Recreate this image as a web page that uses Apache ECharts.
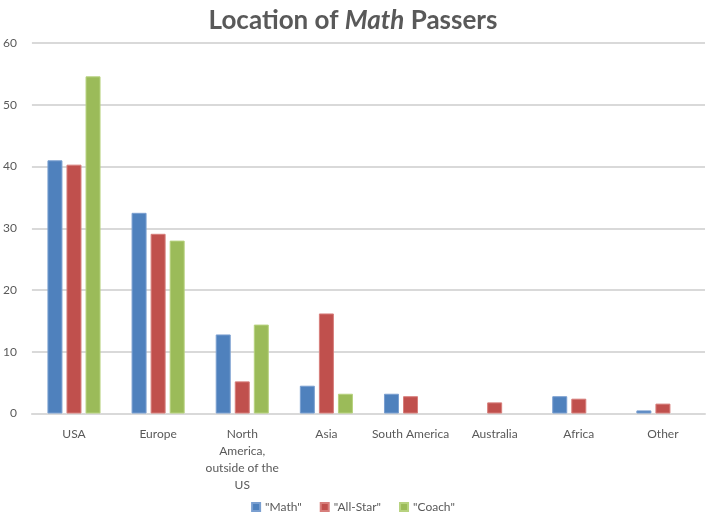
<!DOCTYPE html>
<html>
<head>
<meta charset="utf-8">
<script src="https://cdn.jsdelivr.net/npm/echarts@6/dist/echarts.min.js"></script>
<style>
  html, body { margin: 0; padding: 0; background: #fff; }
  #viz { width: 706px; height: 514px; }
</style>
</head>
<body>
<div id="viz"></div>
<script>
// regions on the x axis
var regions = ['USA', 'Europe', 'North\nAmerica,\noutside of the\nUS', 'Asia',
               'South America', 'Australia', 'Africa', 'Other'];
// values ('-' = no bar)
var mathVals    = [41.0, 32.5, 12.8, 4.5, 3.2, '-', 2.8, 0.5];
var allStarVals = [40.3, 29.1, 5.2, 16.2, 2.8, 1.8, 2.4, 1.6];
var coachVals   = [54.6, 28.0, 14.4, 3.2, '-', '-', '-', '-'];
var yTicks = [0, 10, 20, 30, 40, 50, 60];

var dom = document.getElementById('viz');
var myChart = echarts.init(dom);
var font = 'Lato, "Open Sans", sans-serif';

function barSeries(name, data, color, border) {
    return {
        name: name,
        type: 'bar',
        data: data,
        barWidth: 15,
        barGap: '27%',
        itemStyle: { color: color, borderColor: border, borderWidth: 1 }
    };
}

var option = {
    animation: false,
    backgroundColor: '#fff',
    title: {
        text: '{n|Location of }{i|Math}{n| Passers}',
        left: 'center',
        top: 3,
        textStyle: {
            rich: {
                n: { fontFamily: font, fontSize: 26, fontWeight: 'bold', color: '#595959' },
                i: { fontFamily: font, fontSize: 26, fontWeight: 'bold', fontStyle: 'italic', color: '#595959' }
            }
        }
    },
    legend: {
        bottom: -4,
        left: 'center',
        itemWidth: 8,
        itemHeight: 8,
        itemGap: 18,
        icon: 'rect',
        textStyle: { fontFamily: font, fontSize: 12, color: '#595959' },
        formatter: function (n) { return '"' + n + '"'; }
    },
    grid: { left: 29, right: 1, top: 43, bottom: 100.5, containLabel: false },
    xAxis: {
        type: 'category',
        data: regions,
        axisTick: { show: false },
        axisLine: { lineStyle: { color: '#d9d9d9', width: 2 } },
        axisLabel: {
            interval: 0,
            margin: 12,
            fontFamily: font,
            fontSize: 12,
            color: '#595959',
            lineHeight: 17
        }
    },
    yAxis: {
        type: 'value',
        min: yTicks[0],
        max: yTicks[yTicks.length - 1],
        interval: 10,
        axisLine: { show: false },
        axisTick: { show: false },
        axisLabel: { margin: 15, fontFamily: font, fontSize: 12, color: '#595959' },
        splitLine: { lineStyle: { color: '#d9d9d9', width: 2 } }
    },
    series: [
        barSeries('Math', mathVals, '#4f81bd', '#7a9fd0'),
        barSeries('All-Star', allStarVals, '#c0504d', '#d77e7b'),
        barSeries('Coach', coachVals, '#9bbb59', '#b7d27f')
    ]
};
myChart.setOption(option, true);
</script>
</body>
</html>
